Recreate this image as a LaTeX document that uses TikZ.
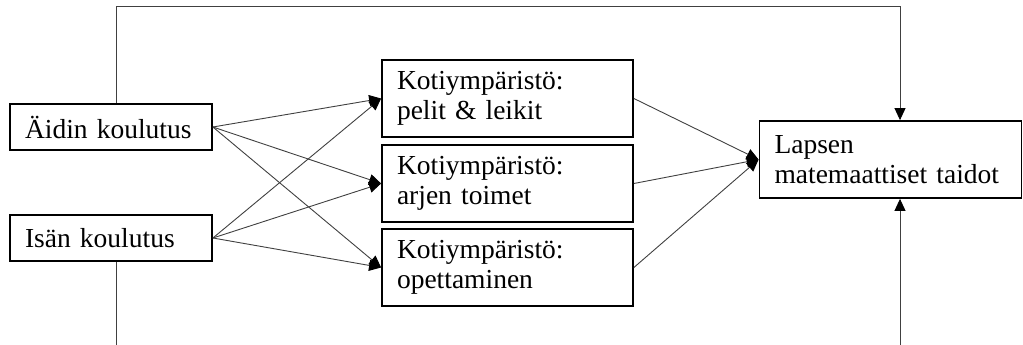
\documentclass[tikz,border=0pt]{standalone}
\usepackage{fontspec}
\setmainfont{Liberation Serif}
\usetikzlibrary{arrows.meta}
\begin{document}
\begin{tikzpicture}[x=1pt,y=-1pt,
  box/.style={draw=black,line width=1.8pt,rectangle,inner xsep=15pt,inner ysep=0pt,
    align=left,font=\fontsize{27.5}{30}\selectfont,anchor=center},
  conn/.style={draw=black!75,line width=0.9pt,-{Triangle[length=12pt,width=11pt,black]}},
  plain/.style={draw=black!75,line width=0.9pt}]
\useasboundingbox (0,0) rectangle (1023,345);
\clip (0,0) rectangle (1023,345);
\node[box,minimum width=202pt,minimum height=46pt,text width=172pt] (A) at (111,127) {Äidin koulutus};
\node[box,minimum width=202pt,minimum height=46pt,text width=172pt] (I) at (111,238) {Isän koulutus};
\node[box,minimum width=251pt,minimum height=77pt,text width=221pt] (K1) at (507.5,98.5) {Kotiympäristö:\\pelit \& leikit};
\node[box,minimum width=251pt,minimum height=77pt,text width=221pt] (K2) at (507.5,183.5) {Kotiympäristö:\\arjen toimet};
\node[box,minimum width=251pt,minimum height=77pt,text width=221pt] (K3) at (507.5,267.5) {Kotiympäristö:\\opettaminen};
\node[box,minimum width=262pt,minimum height=77pt,text width=232pt] (L) at (890.5,159.5) {Lapsen\\matemaattiset taidot};
\coordinate (topA) at (116,6);
\coordinate (botA) at (116,400);
\foreach \k in {K1,K2,K3}{
  \draw[conn] (A.east) -- (\k.west);
  \draw[conn] (I.east) -- (\k.west);
  \draw[conn] (\k.east) -- (L.west);
}
\draw[conn] (A.north -| topA) -- (topA) -| ([xshift=9.5pt]L.north);
\draw[conn] (I.south -| botA) -- (botA) -| ([xshift=9.5pt]L.south);
\end{tikzpicture}
\end{document}
